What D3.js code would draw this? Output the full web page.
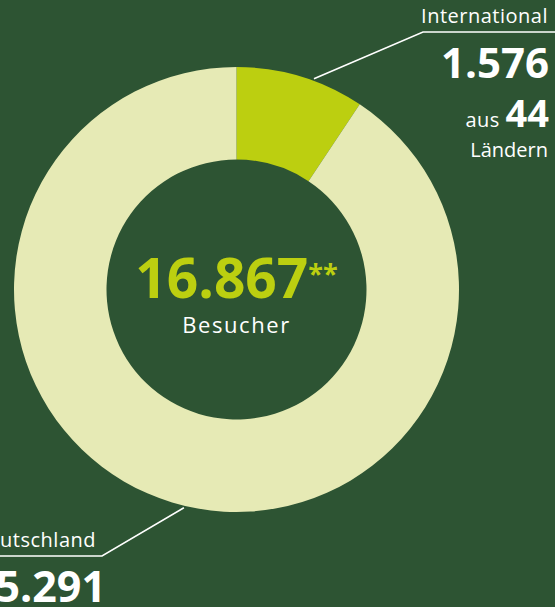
<!DOCTYPE html>
<html>
<head>
<meta charset="utf-8">
<script src="https://cdn.jsdelivr.net/npm/d3@7"></script>
<style>
  html, body { margin: 0; padding: 0; background: #2d5433; overflow: hidden; }
  text { font-family: "Open Sans", "Lato", sans-serif; }
</style>
</head>
<body>
<div id="chart"></div>
<script>
var categories = ["International", "Deutschland"];
var values = [1576, 15291];
var sliceColors = ["#bccf10", "#e6eab5"];
var countries = 44;
var centerLabel = "Besucher";

var width = 555, height = 607,
    cx = 236.5, cy = 289.5,
    outerR = 222.5, innerR = 130;

var de = d3.formatLocale({decimal: ",", thousands: ".", grouping: [3], currency: ["", " €"]});
var fmt = de.format(",d");
var total = d3.sum(values);

var svg = d3.select("#chart").append("svg")
    .attr("width", width)
    .attr("height", height);

svg.append("rect")
    .attr("width", width)
    .attr("height", height)
    .attr("fill", "#2d5433");

var pie = d3.pie().sort(null).value(function(d) { return d; });
var arc = d3.arc().innerRadius(innerR).outerRadius(outerR);
var arcs = pie(values);

var g = svg.append("g").attr("transform", "translate(" + cx + "," + cy + ")");

g.selectAll("path.slice")
    .data(arcs)
  .enter().append("path")
    .attr("class", "slice")
    .attr("d", arc)
    .attr("fill", function(d, i) { return sliceColors[i]; });

// center text
var mid = g.append("text")
    .attr("text-anchor", "middle")
    .attr("y", 8);
mid.append("tspan")
    .attr("font-size", 55)
    .attr("font-weight", 700)
    .attr("fill", "#bccf10")
    .text(fmt(total));
mid.append("tspan")
    .attr("font-size", 27)
    .attr("font-weight", 700)
    .attr("fill", "#bccf10")
    .attr("dy", -15)
    .text("**");

g.append("text")
    .attr("text-anchor", "middle")
    .attr("y", 43.5)
    .attr("font-size", 22)
    .attr("letter-spacing", 1.6)
    .attr("fill", "#ffffff")
    .text(centerLabel);

// callouts: angle fraction inside slice, elbow and end points
var callouts = [
  {frac: 0.6, elbow: [423, 32], end: 555},
  {frac: 0.49, elbow: [102, 556], end: 0}
];

var line = d3.line();
arcs.forEach(function(a, i) {
  var c = callouts[i];
  var ang = a.startAngle + (a.endAngle - a.startAngle) * c.frac;
  var r = outerR + 2;
  var p0 = [cx + r * Math.sin(ang), cy - r * Math.cos(ang)];
  svg.append("path")
      .attr("d", line([p0, c.elbow, [c.end, c.elbow[1]]]))
      .attr("fill", "none")
      .attr("stroke", "#ffffff")
      .attr("stroke-width", 1.6);
});

// International label
svg.append("text")
    .attr("x", 548).attr("y", 23)
    .attr("text-anchor", "end")
    .attr("font-size", 20)
    .attr("letter-spacing", 0.5)
    .attr("fill", "#ffffff")
    .text(categories[0]);
svg.append("text")
    .attr("x", 549).attr("y", 78)
    .attr("text-anchor", "end")
    .attr("font-size", 42)
    .attr("font-weight", 700)
    .attr("fill", "#ffffff")
    .text(fmt(values[0]));
var aus = svg.append("text")
    .attr("x", 549).attr("y", 127)
    .attr("text-anchor", "end")
    .attr("fill", "#ffffff");
aus.append("tspan").attr("font-size", 20).attr("letter-spacing", 0.5).text("aus ");
aus.append("tspan").attr("font-size", 38).attr("font-weight", 700).text(countries);
svg.append("text")
    .attr("x", 548).attr("y", 157)
    .attr("text-anchor", "end")
    .attr("font-size", 20)
    .attr("fill", "#ffffff")
    .text("Ländern");

// Deutschland label
svg.append("text")
    .attr("x", 96).attr("y", 547)
    .attr("text-anchor", "end")
    .attr("font-size", 20)
    .attr("letter-spacing", 0.5)
    .attr("fill", "#ffffff")
    .text(categories[1]);
svg.append("text")
    .attr("x", 106).attr("y", 602)
    .attr("text-anchor", "end")
    .attr("font-size", 43)
    .attr("font-weight", 700)
    .attr("fill", "#ffffff")
    .text(fmt(values[1]));
</script>
</body>
</html>
